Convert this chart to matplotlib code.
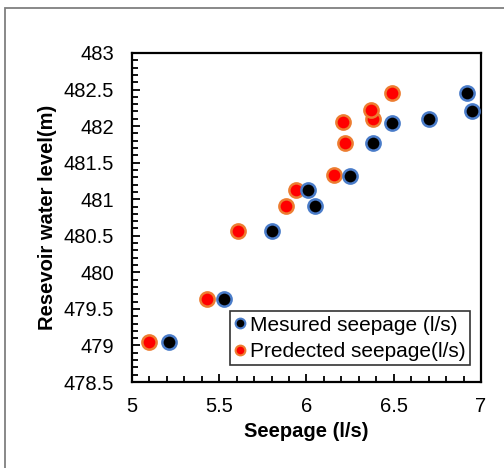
import matplotlib
matplotlib.use("Agg")
import matplotlib.pyplot as plt
from matplotlib.ticker import MultipleLocator, FuncFormatter
from matplotlib.lines import Line2D
from matplotlib.patches import Rectangle

plt.rcParams['font.family'] = ['Liberation Sans', 'DejaVu Sans']

# Reservoir water level (m)
water_level = [479.05, 479.63, 480.56, 480.91, 481.12, 481.32, 481.77, 482.04, 482.10, 482.21, 482.45]
water_level_pred = [479.05, 479.63, 480.56, 480.91, 481.12, 481.33, 481.77, 482.05, 482.10, 482.22, 482.45]
# Seepage (l/s)
measured_seepage = [5.21, 5.53, 5.80, 6.05, 6.01, 6.25, 6.38, 6.49, 6.70, 6.95, 6.92]
predicted_seepage = [5.10, 5.43, 5.61, 5.88, 5.94, 6.16, 6.22, 6.21, 6.38, 6.37, 6.49]

labels = ["Mesured seepage (l/s)", "Predected seepage(l/s)"]

fig = plt.figure(figsize=(5.04, 4.68), dpi=100)
# outer frame
fig.patches.append(Rectangle((5 / 504, -0.1), 1.2, 1 - 8 / 468 + 0.1, transform=fig.transFigure,
                             fill=False, edgecolor='#7f7f7f', linewidth=1.3))

ax = fig.add_axes([132 / 504, 1 - 382 / 468, 349 / 504, 329 / 468])

ax.scatter(predicted_seepage, water_level_pred, s=105, c='#ff0000', edgecolors='#ed7d31',
           linewidths=1.8, zorder=3)
ax.scatter(measured_seepage, water_level, s=105, c='#000000', edgecolors='#4a7cc9',
           linewidths=1.8, zorder=4)

ax.set_xlim(5, 7)
ax.set_ylim(478.5, 483)
ax.xaxis.set_major_locator(MultipleLocator(0.5))
ax.xaxis.set_minor_locator(MultipleLocator(0.1))
ax.yaxis.set_major_locator(MultipleLocator(0.5))
ax.yaxis.set_minor_locator(MultipleLocator(0.1))
fmt = FuncFormatter(lambda v, p: '{:g}'.format(round(v, 2)))
ax.xaxis.set_major_formatter(fmt)
ax.yaxis.set_major_formatter(fmt)

for s in ax.spines.values():
    s.set_linewidth(1.6)
    s.set_color('black')

ax.tick_params(which='both', direction='in', top=False, right=False, width=1.3, color='black')
ax.tick_params(which='major', length=6, labelsize=14.5)
ax.tick_params(axis='y', which='major', pad=13)
ax.tick_params(axis='x', which='major', pad=11)
ax.tick_params(which='minor', length=4.5)

ax.set_xlabel("Seepage (l/s)", fontsize=14.5, fontweight='bold', labelpad=4)
ax.set_ylabel("Resevoir water level(m)", fontsize=14.5, fontweight='bold', labelpad=5)

handles = [
    Line2D([], [], linestyle='none', marker='o', markersize=7, markerfacecolor='#000000',
           markeredgecolor='#4a7cc9', markeredgewidth=1.5),
    Line2D([], [], linestyle='none', marker='o', markersize=7, markerfacecolor='#ff0000',
           markeredgecolor='#ed7d31', markeredgewidth=1.5),
]
leg = ax.legend(handles, labels, loc='lower right', bbox_to_anchor=(0.9685, 0.0517),
                fontsize=15, frameon=True, fancybox=False, edgecolor='black',
                handlelength=0.5, handletextpad=0.25, borderpad=0.2, labelspacing=0.35,
                borderaxespad=0)
leg.get_frame().set_linewidth(1.2)

fig.savefig("out.png", dpi=100)
